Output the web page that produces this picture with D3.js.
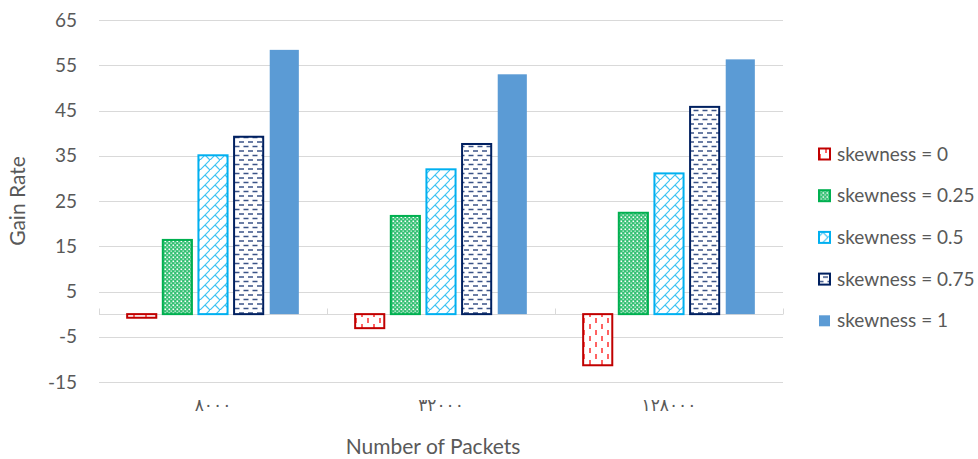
<!DOCTYPE html>
<html>
<head>
<meta charset="utf-8">
<script src="https://cdn.jsdelivr.net/npm/d3@7"></script>
<style>
  html, body { margin: 0; padding: 0; background: #fff; }
  svg { display: block; }
  text { font-family: Lato, "Open Sans", sans-serif; fill: #595959; }
</style>
</head>
<body>
<svg id="chart" width="978" height="459"></svg>
<script>
// Gain rate per packet count, one array per skewness level
const categories = ["٨٠٠٠", "٣٢٠٠٠", "١٢٨٠٠٠"];
const seriesNames = ["skewness = 0", "skewness = 0.25", "skewness = 0.5", "skewness = 0.75", "skewness = 1"];
const skew0   = [-0.8, -3.1, -11.3];
const skew025 = [16.4, 21.7, 22.4];
const skew05  = [35.1, 32.0, 31.1];
const skew075 = [39.2, 37.6, 45.8];
const skew1   = [58.4, 53.0, 56.3];
const yTicks  = [-15, -5, 5, 15, 25, 35, 45, 55, 65];

const seriesValues = [skew0, skew025, skew05, skew075, skew1];

const svg = d3.select("#chart");
const plot = { left: 99, right: 783, top: 20, bottom: 382 };

const x0 = d3.scaleBand().domain(categories).range([plot.left, plot.right]).padding(0);
const x1 = d3.scaleBand().domain(seriesNames).range([0, x0.bandwidth()])
  .paddingInner(0.183).paddingOuter(0.79);
const y = d3.scaleLinear().domain([-15, 65]).range([plot.bottom, plot.top]);

// fill patterns and outline colours for each series
const defs = svg.append("defs");

function pat(id, w, h, draw) {
  const p = defs.append("pattern").attr("id", id)
    .attr("patternUnits", "userSpaceOnUse").attr("width", w).attr("height", h);
  p.append("rect").attr("width", w).attr("height", h).attr("fill", "#fff");
  draw(p);
}
// dashed vertical
pat("pRed", 12, 12, p => {
  p.append("path").attr("d", "M2,0V5M8,6V11").attr("stroke", "#ff3b3b").attr("stroke-width", 1.6);
});
// small dots
pat("pGreen", 4, 4, p => {
  p.append("rect").attr("width", 4).attr("height", 4).attr("fill", "#33c073");
  p.append("rect").attr("x", 0.5).attr("y", 0.5).attr("width", 1.6).attr("height", 1.6).attr("fill", "#fff");
  p.append("rect").attr("x", 2.5).attr("y", 2.5).attr("width", 1.3).attr("height", 1.3).attr("fill", "#e8f8ee");
});
// diagonal brick
pat("pBlue", 10, 10, p => {
  p.append("path").attr("d", "M-1,11L11,-1M5,5L10,10").attr("stroke", "#3cc3f3").attr("stroke-width", 1.2);
});
// dashed horizontal
pat("pNavy", 9, 9, p => {
  p.append("path").attr("d", "M0.5,2.5H5.5M5,7H9M0,7H1").attr("stroke", "#3b5488").attr("stroke-width", 1.4);
});

const styles = [
  { fill: "url(#pRed)",   stroke: "#c00000" },
  { fill: "url(#pGreen)", stroke: "#00b050" },
  { fill: "url(#pBlue)",  stroke: "#00b0f0" },
  { fill: "url(#pNavy)",  stroke: "#002060" },
  { fill: "#5b9bd5",      stroke: "none" }
];

// gridlines
svg.append("g").selectAll("line").data(yTicks).join("line")
  .attr("x1", plot.left).attr("x2", plot.right)
  .attr("y1", d => Math.round(y(d)) + 0.5).attr("y2", d => Math.round(y(d)) + 0.5)
  .attr("stroke", "#d9d9d9").attr("stroke-width", 1);

// y tick labels
svg.append("g").selectAll("text").data(yTicks).join("text")
  .attr("x", 77).attr("y", d => y(d))
  .attr("dy", "0.35em").attr("text-anchor", "end")
  .style("font-size", "19px")
  .text(d => d);

// category axis along zero
const zeroY = Math.round(y(0)) + 0.5;
svg.append("line").attr("x1", plot.left).attr("x2", plot.right)
  .attr("y1", zeroY).attr("y2", zeroY).attr("stroke", "#d9d9d9");
const bounds = categories.map(c => x0(c)).concat([plot.right]);
svg.append("g").selectAll("line").data(bounds).join("line")
  .attr("x1", d => Math.round(d) + 0.5).attr("x2", d => Math.round(d) + 0.5)
  .attr("y1", zeroY).attr("y2", zeroY - 6).attr("stroke", "#d9d9d9");

// bars
const groups = svg.append("g").selectAll("g").data(seriesNames).join("g");
groups.each(function(name, si) {
  const st = styles[si];
  d3.select(this).selectAll("rect").data(seriesValues[si]).join("rect")
    .attr("x", (d, i) => x0(categories[i]) + x1(name))
    .attr("width", x1.bandwidth())
    .attr("y", d => y(Math.max(0, d)))
    .attr("height", d => Math.abs(y(d) - y(0)))
    .attr("fill", st.fill)
    .attr("stroke", st.stroke)
    .attr("stroke-width", st.stroke === "none" ? 0 : 2);
});

// category labels
svg.append("g").selectAll("text").data(categories).join("text")
  .attr("x", d => x0(d) + x0.bandwidth() / 2).attr("y", 411)
  .attr("text-anchor", "middle")
  .style("font-family", "'DejaVu Sans', sans-serif")
  .style("font-size", "17px")
  .text(d => d);

// axis titles
svg.append("text").attr("x", 433).attr("y", 454).attr("text-anchor", "middle")
  .style("font-size", "21px").text("Number of Packets");
svg.append("text").attr("transform", "translate(25,201) rotate(-90)")
  .attr("text-anchor", "middle").style("font-size", "21px").text("Gain Rate");

// legend
const legend = svg.append("g").selectAll("g").data(seriesNames).join("g")
  .attr("transform", (d, i) => `translate(818,${154 + i * 41.7})`);
legend.append("rect")
  .attr("x", 1).attr("y", -5.5)
  .attr("width", 11).attr("height", 11)
  .attr("fill", (d, i) => styles[i].fill)
  .attr("stroke", (d, i) => styles[i].stroke)
  .attr("stroke-width", (d, i) => i === 4 ? 0 : 2);
legend.append("text").attr("x", 19).attr("y", 0).attr("dy", "0.35em")
  .style("font-size", "19px").text(d => d);
</script>
</body>
</html>
